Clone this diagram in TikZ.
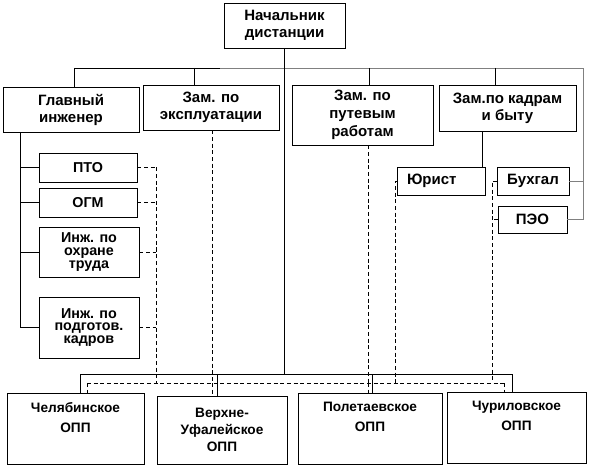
\documentclass[tikz,border=0pt]{standalone}
\usepackage{fontspec}
\setmainfont{Liberation Sans}

\tikzset{
  blk/.style 2 args={draw, line width=0.6pt, inner sep=0pt, align=center,
    minimum width=#1*0.75pt, minimum height=#2*0.75pt},
  big/.style={font=\bfseries\fontsize{11.25}{12.75}\selectfont},
  small/.style={font=\bfseries\fontsize{10.75}{9.5}\selectfont},
  opp/.style={label={[anchor=north,inner sep=0pt,yshift=-7pt,align=center,
    font=\bfseries\fontsize{10.25}{15}\selectfont]north:#1}},
  ln/.style={line width=0.6pt},
  dsh/.style={line width=0.5pt, dash pattern=on 3pt off 2pt}
}

\begin{document}
\begin{tikzpicture}[x=0.75pt,y=-0.75pt]
\useasboundingbox (0,0) rectangle (590,467);

\node[blk={121}{45}, big] (nach) at (284.5,25.5) {Начальник\\дистанции};
\node[blk={136}{45}, big] (glav) at (71,109.5) {Главный\\инженер};
\node[blk={136}{45}, big] (expl) at (211,107.5) {Зам. по\\эксплуатации};
\node[blk={141}{60}, big, font=\bfseries\fontsize{11.25}{13.5}\selectfont] (put) at (362.5,115) {Зам. по\\путевым\\работам};
\node[blk={137}{46}, big] (kadr) at (507.5,108) {Зам.по кадрам\\и быту};

\node[blk={98}{29}, small] (pto) at (88,167.5) {ПТО};
\node[blk={98}{29}, small] (ogm) at (88,202.5) {ОГМ};
\node[blk={100}{50}, small] (ohr) at (89,252) {Инж. по\\охране\\труда};
\node[blk={100}{61}, small] (pod) at (89,327.5) {Инж. по\\подготов.\\кадров};

\node[blk={88}{28}, big, inner xsep=7.5pt, text width=51pt, align=left] (yur) at (441,181) {Юрист};
\node[blk={72}{28}, big] (buh) at (533,181) {Бухгал};
\node[blk={69}{27}, big] (peo) at (532.5,219.5) {ПЭО};

\node[blk={137}{71}, opp={Челябинское\\ОПП}] (chel) at (75.5,428.5) {};
\node[blk={130}{68}, font=\bfseries\fontsize{10.25}{13}\selectfont] (verh) at (222,430) {Верхне-\\Уфалейское\\ОПП};
\node[blk={144}{71}, opp={Полетаевское\\ОПП}] (pol) at (370,428.5) {};
\node[blk={139}{71}, opp={Чуриловское\\ОПП}] (chur) at (516.5,427.5) {};

\coordinate (t1) at (74,68);
\coordinate (t2) at (194,68);
\coordinate (t3) at (369,68);
\coordinate (t4) at (495,68);
\coordinate (t5) at (583,68);
\coordinate (tg) at (220,68);
\coordinate (gs) at (20,0);
\coordinate (ds) at (156,0);
\coordinate (yk) at (482,0);
\coordinate (dy) at (395,0);
\coordinate (db) at (492,0);
\coordinate (b1) at (80,374);
\coordinate (b2) at (217,374);
\coordinate (b3) at (372,374);
\coordinate (b4) at (512,374);
\coordinate (d1) at (87,383);
\coordinate (d2) at (212,383);
\coordinate (d3) at (368,383);
\coordinate (d4) at (504,383);

\draw[ln] (t1) -- (tg);
\draw[ln, gray] (tg) -- (t5) -- (t5 |- peo) -- (peo.east);
\draw[ln, gray] (t5 |- buh) -- (buh.east);
\foreach \c/\n in {t1/glav,t2/expl,t3/put,t4/kadr} {\draw[ln] (\c) -- (\c |- \n.north);}
\draw[ln] (nach.south) -- (nach.south |- b1);

\draw[ln] (gs |- glav.south) -- (gs |- pod);
\foreach \n in {pto,ogm,ohr,pod} {\draw[ln] (gs |- \n) -- (\n.west);}
\foreach \n in {pto,ogm,ohr,pod} {\draw[dsh] (\n.east) -- (ds |- \n);}
\draw[dsh] (ds |- pto) -- (ds |- d1);

\draw[ln] (yk |- kadr.south) -- (yk |- yur.north);
\draw[dsh] (yur.west) -- (dy |- yur.west) -- (dy |- d1);
\draw[dsh] (buh.west) -- (db |- buh.west) -- (db |- d1);
\draw[dsh] (peo.west) -- (db |- peo.west);

\draw[ln] (b1) -- (b4);
\foreach \c/\n in {b1/chel,b2/verh,b3/pol,b4/chur} {\draw[ln] (\c) -- (\c |- \n.north);}
\draw[dsh] (d1) -- (d4);
\foreach \c/\n in {d1/chel,d2/verh,d3/pol,d4/chur} {\draw[dsh] (\c) -- (\c |- \n.north);}
\draw[dsh] (d2 |- expl.south) -- (d2);
\draw[dsh] (d3 |- put.south) -- (d3);

\end{tikzpicture}
\end{document}
